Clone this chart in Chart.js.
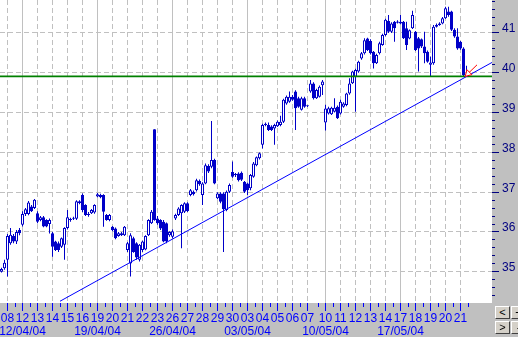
<!DOCTYPE html>
<html><head><meta charset="utf-8">
<script src="https://cdn.jsdelivr.net/npm/chart.js@4.4.1/dist/chart.umd.min.js"></script>
<style>
html,body{margin:0;padding:0;background:#c0c0c0;overflow:hidden;}
#wrap{position:relative;width:518px;height:337px;}
canvas{position:absolute;left:0;top:0;}
.btn{position:absolute;box-sizing:border-box;width:15px;height:13px;background:#d4d0c8;border:1px solid;border-color:#ffffff #404040 #404040 #ffffff;font:11px 'Liberation Sans',Arial,sans-serif;color:#000;text-align:center;line-height:11px;}
</style></head><body>
<div id="wrap"><canvas id="c" width="518" height="337"></canvas>
<div class="btn" style="left:495px;top:306px">&lt;</div>
<div class="btn" style="left:511px;top:306px">+</div>
<div class="btn" style="left:495px;top:321px">&gt;</div>
<div class="btn" style="left:511px;top:321px">-</div>
</div>
<script>
// ---- data ----
const dates = ['08/04/04','12/04/04','13/04/04','14/04/04','15/04/04','16/04/04','19/04/04','20/04/04','21/04/04','22/04/04','23/04/04','26/04/04','27/04/04','28/04/04','29/04/04','30/04/04','03/05/04','04/05/04','05/05/04','06/05/04','07/05/04','10/05/04','11/05/04','12/05/04','13/05/04','14/05/04','17/05/04','18/05/04','19/05/04','20/05/04','21/05/04'];
const weekStarts = ['12/04/04','19/04/04','26/04/04','03/05/04','10/05/04','17/05/04'];
const barsPerDay = [5,5,5,5,5,5,5,5,5,5,5,5,5,5,5,5,5,5,5,5,6,5,5,5,5,5,5,5,5,5,5];

const open = [35.00,35.09,35.30,35.72,35.90,35.76,36.05,36.18,36.45,36.45,36.64,36.60,36.47,36.30,36.37,36.30,36.20,35.97,35.76,35.72,
35.63,35.68,36.10,36.30,36.33,36.33,36.77,36.93,36.68,36.45,36.47,36.49,36.89,36.93,36.93,36.43,36.30,36.13,36.09,35.90,
35.97,35.92,35.55,35.21,35.84,35.72,35.30,35.55,35.56,35.92,36.22,38.58,36.34,36.30,36.26,36.22,35.92,35.88,36.34,36.43,
36.47,36.51,36.72,36.93,37.01,37.05,37.28,36.93,37.22,37.66,37.64,37.81,36.85,36.97,36.97,36.55,37.01,37.51,37.45,37.47,
37.49,37.26,37.22,37.10,37.39,37.68,37.85,38.19,38.69,38.69,38.65,38.60,38.66,38.69,38.77,39.23,39.27,39.40,39.53,39.36,
39.07,39.36,39.17,39.53,39.73,39.36,39.40,39.69,38.75,38.98,38.96,39.02,39.15,38.98,39.15,39.19,39.48,39.74,39.90,40.03,
40.36,40.49,40.86,40.80,40.53,40.24,40.49,40.70,40.95,41.30,41.03,41.28,41.26,41.28,41.28,41.12,40.86,41.12,41.03,40.87,
40.84,40.66,40.53,40.20,40.24,41.16,41.20,41.24,41.37,41.54,41.54,41.08,40.91,40.78,40.61,39.94];
const high = [35.10,35.30,35.95,36.10,35.95,36.05,36.10,36.52,36.60,36.78,36.68,36.83,36.52,36.40,36.40,36.32,36.34,36.00,35.78,35.76,
35.86,36.12,36.55,36.36,36.38,36.80,36.80,36.97,36.70,36.50,36.58,36.70,36.98,36.96,36.95,36.45,36.45,36.15,36.11,36.00,
36.00,36.15,35.75,35.97,35.88,35.74,35.70,35.78,35.92,36.32,36.55,38.58,36.40,36.32,36.30,36.24,36.02,36.06,36.46,36.62,
36.70,36.75,36.75,37.08,37.04,37.34,37.32,37.25,37.72,37.70,38.79,37.84,37.00,37.00,37.00,37.04,37.22,37.77,37.48,37.50,
37.52,37.28,37.24,37.46,37.76,37.90,38.00,38.72,38.75,38.75,38.68,38.72,38.80,38.92,39.35,39.43,39.53,39.44,39.56,39.40,
39.40,39.40,39.18,39.82,39.76,39.60,39.68,39.82,39.20,39.15,39.15,39.36,39.18,39.32,39.26,39.50,39.86,40.05,40.10,40.30,
40.52,40.87,40.88,40.84,40.55,40.48,40.78,40.98,41.36,41.45,41.27,41.30,41.32,41.45,41.30,41.28,41.09,41.56,41.05,40.90,
40.86,41.03,40.56,40.40,41.20,41.24,41.27,41.40,41.66,41.66,41.56,41.12,41.12,40.80,40.64,40.18];
const low = [34.98,35.05,34.88,35.68,35.72,35.70,35.92,36.14,36.40,36.42,36.50,36.58,36.22,36.27,36.12,36.12,35.96,35.38,35.52,35.50,
35.60,35.30,36.06,36.26,36.30,36.30,36.70,36.50,36.40,36.38,36.45,36.46,36.87,36.85,36.13,36.28,36.27,36.02,35.82,35.88,
35.90,35.90,35.50,34.88,35.48,35.30,35.26,35.50,35.54,35.90,36.20,36.28,36.18,36.05,35.74,35.72,35.88,35.84,36.30,36.40,
35.59,36.48,36.50,36.90,36.92,37.02,37.16,36.68,37.20,37.48,37.60,37.20,36.82,36.72,35.50,36.52,36.98,37.36,37.38,37.27,
37.28,36.98,36.93,37.05,37.36,37.65,37.82,38.10,38.66,38.54,38.54,38.19,38.64,38.66,38.74,39.20,39.25,39.30,38.56,39.12,
39.05,39.12,39.14,39.50,39.33,39.34,39.38,39.44,38.55,38.95,38.94,39.00,38.84,38.95,39.12,39.16,39.45,39.72,39.02,40.00,
40.33,40.46,40.55,40.46,40.11,40.22,40.46,40.68,40.92,41.00,41.00,40.78,41.24,41.22,40.85,40.57,40.84,41.10,40.55,40.03,
40.62,40.24,40.25,39.90,40.20,41.14,41.18,41.22,41.35,41.41,41.05,40.88,40.58,40.58,39.90,39.90];
const close = [35.07,35.23,35.90,35.93,35.76,36.00,35.97,36.45,36.57,36.74,36.52,36.81,36.26,36.37,36.14,36.14,36.30,35.63,35.55,35.55,
35.84,36.10,36.37,36.32,36.35,36.77,36.73,36.55,36.43,36.43,36.55,36.68,36.95,36.87,36.51,36.30,36.43,36.05,35.84,35.97,
35.92,36.13,35.72,35.92,35.50,35.36,35.68,35.76,35.90,36.30,36.51,36.30,36.22,36.09,35.76,35.76,36.00,36.02,36.43,36.59,
36.68,36.72,36.53,37.05,36.95,37.30,37.20,37.22,37.68,37.52,37.81,37.22,36.97,36.76,36.57,37.01,37.18,37.39,37.43,37.30,
37.31,37.01,37.05,37.43,37.72,37.88,37.98,38.69,38.72,38.56,38.56,38.69,38.77,38.77,39.32,39.40,39.40,39.32,39.11,39.15,
39.36,39.15,39.16,39.73,39.36,39.57,39.65,39.78,39.10,39.11,39.12,39.12,38.86,39.27,39.23,39.48,39.73,40.03,40.07,40.28,
40.49,40.82,40.57,40.49,40.24,40.45,40.74,40.95,41.33,41.03,41.24,41.12,41.29,41.24,40.87,40.70,41.07,41.45,40.57,40.61,
40.66,40.49,40.28,40.26,41.16,41.20,41.24,41.37,41.62,41.45,41.08,40.91,40.61,40.61,39.94,39.92];

const supportLevel = 39.91;
const trendLine = [{x: 19.5, y: 34.26}, {x: 163.5, y: 40.26}];
const arrowPts = [{x: 158.5, y: 40.20}, {x: 155.5, y: 39.98}];

// ---- derived ----
const dayStart = []; let acc = 0;
barsPerDay.forEach(n => { dayStart.push(acc); acc += n; });
const nBars = acc;
const xTicks = [];
dates.forEach((d, k) => {
  const c = dayStart[k] + Math.floor((barsPerDay[k] - 1) / 2);
  const day = d.slice(0, 2);
  const isMon = weekStarts.includes(d);
  xTicks.push({value: c, label: isMon ? [day, d] : [day], kind: isMon ? 'week' : 'day'});
  if (k > 0) xTicks.push({value: dayStart[k] - 0.5, label: '', kind: 'minor'});
});
xTicks.push({value: nBars - 0.5, label: '', kind: 'minor'});
xTicks.sort((a, b) => a.value - b.value);
const xTickMap = new Map(xTicks.map(t => [t.value, t]));

const bodies = open.map((o, i) => ({x: i, y: [o, close[i]]}));
const wicks = low.map((l, i) => ({x: i, y: [l, high[i]]}));

const CANDLE = '#0000c8';
const FONT = "'Liberation Sans Narrow','Liberation Sans',Arial,sans-serif";
const isMajorY = v => Math.abs(v - Math.round(v)) < 1e-6;

const bgPlugin = {
  id: 'bg',
  beforeDraw(chart) {
    const {ctx, chartArea: a} = chart;
    ctx.save();
    ctx.fillStyle = '#c0c0c0';
    ctx.fillRect(0, 0, chart.width, chart.height);
    ctx.fillStyle = '#ffffff';
    ctx.fillRect(a.left, a.top, a.right - a.left, a.bottom - a.top);
    ctx.restore();
  }
};

new Chart(document.getElementById('c'), {
  type: 'bar',
  data: {
    datasets: [
      {type: 'line', data: trendLine, borderColor: '#0000ff', borderWidth: 1, pointRadius: 0, clip: 0, order: -2},
      {type: 'line', data: [{x: -1, y: supportLevel}, {x: 170, y: supportLevel}], borderColor: '#008000', borderWidth: 1.6, pointRadius: 0, clip: 0, order: -1},
      {type: 'line', data: arrowPts, borderColor: '#ff0000', borderWidth: 1, pointStyle: 'triangle',
        pointRadius: [0, 4], pointRotation: [0, 225], pointBorderColor: '#ff0000', pointBackgroundColor: '#ffffff', pointBorderWidth: 1, clip: 0, order: -3},
      {data: bodies, grouped: false, barThickness: 3, borderWidth: 1, borderSkipped: false, inflateAmount: 0, minBarLength: 1,
        borderColor: CANDLE,
        backgroundColor: ctx => (close[ctx.dataIndex] >= open[ctx.dataIndex] ? '#ffffff' : CANDLE),
        order: 0},
      {data: wicks, grouped: false, barThickness: 1, borderWidth: 0, inflateAmount: 0, backgroundColor: CANDLE, order: 1}
    ]
  },
  options: {
    responsive: false,
    animation: false,
    devicePixelRatio: 1,
    layout: {padding: 0, autoPadding: false},
    plugins: {legend: {display: false}, tooltip: {enabled: false}},
    scales: {
      x: {
        type: 'linear', min: -0.5, max: 163.5, offset: false,
        afterBuildTicks: s => { s.ticks = xTicks.map(t => ({value: t.value})); },
        afterFit: s => { s.height = 34; s.paddingLeft = 0; s.paddingRight = 0; s.paddingTop = 0; s.paddingBottom = 0; },
        grid: {
          offset: false, drawTicks: true, tickLength: 8, lineWidth: 1,
          color: ctx => { const t = ctx.tick && xTickMap.get(ctx.tick.value); return t && t.kind !== 'minor' ? '#c0c0c0' : 'rgba(0,0,0,0)'; },
          tickColor: '#0000ff', tickWidth: 1,
          tickBorderDash: ctx => { const t = ctx.tick && xTickMap.get(ctx.tick.value); return t && t.kind === 'minor' ? [4, 40] : []; }
        },
        border: {display: false,
          dash: ctx => { const t = ctx.tick && xTickMap.get(ctx.tick.value); return t && t.kind === 'week' ? [] : [5, 3]; }},
        ticks: {
          autoSkip: false, maxRotation: 0, minRotation: 0, padding: 1,
          color: '#0000ff', font: {family: FONT, size: 12, lineHeight: '13px'},
          callback: v => { const t = xTickMap.get(v); return t ? t.label : ''; }
        }
      },
      y: {
        type: 'linear', position: 'right', min: 34.216, max: 41.829, beginAtZero: false,
        afterBuildTicks: s => { const a = []; for (let k = 172; k <= 209; k++) a.push({value: Math.round(k * 2) / 10}); s.ticks = a; },
        afterFit: s => { s.width = 26; s.paddingLeft = 0; s.paddingRight = 0; s.paddingTop = 0; s.paddingBottom = 0; },
        grid: {
          drawTicks: true, tickLength: 7, lineWidth: 1,
          color: ctx => (ctx.tick && isMajorY(ctx.tick.value) ? '#c0c0c0' : 'rgba(0,0,0,0)'),
          tickColor: '#000080', tickWidth: 1,
          tickBorderDash: ctx => (ctx.tick && isMajorY(ctx.tick.value) ? [] : [3, 40])
        },
        border: {display: false, dash: [5, 3]},
        ticks: {
          autoSkip: false, padding: 3, labelOffset: -4,
          color: '#000080', font: {family: FONT, size: 12},
          callback: v => (isMajorY(v) ? String(Math.round(v)) : '')
        }
      }
    }
  },
  plugins: [bgPlugin]
});
</script>
</body></html>
